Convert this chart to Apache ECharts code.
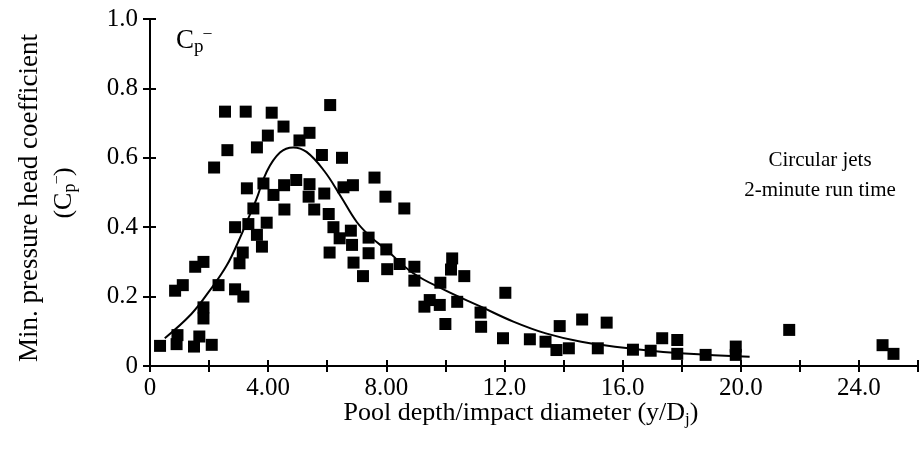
<!DOCTYPE html>
<html>
<head>
<meta charset="utf-8">
<script src="https://cdn.jsdelivr.net/npm/echarts@6/dist/echarts.min.js"></script>
<style>
  html, body { margin: 0; padding: 0; background: #fff; }
  #chart { width: 924px; height: 454px; }
</style>
</head>
<body>
<div id="chart"></div>
<script>
/* Min. pressure head coefficient vs pool depth — circular jets */

// measured points [y/Dj, Cp-]
var measured = [
  [0.34, 0.058], [0.90, 0.063], [0.93, 0.089], [1.49, 0.056], [1.67, 0.085], [2.09, 0.061],
  [1.81, 0.137], [1.81, 0.169], [0.85, 0.217], [1.11, 0.233], [1.53, 0.286], [1.81, 0.30],
  [2.32, 0.233], [2.88, 0.221], [3.16, 0.20], [3.03, 0.296], [3.14, 0.327], [2.88, 0.40],
  [3.33, 0.409], [3.95, 0.413], [3.62, 0.378], [3.79, 0.344],
  [2.17, 0.572], [2.62, 0.622], [2.54, 0.733], [3.24, 0.733], [4.12, 0.73], [4.52, 0.69],
  [6.10, 0.752], [3.99, 0.664], [3.62, 0.63], [5.40, 0.672], [5.06, 0.65], [5.82, 0.608],
  [6.50, 0.60], [7.60, 0.543], [7.97, 0.488],
  [3.28, 0.512], [3.84, 0.526], [4.18, 0.493], [4.54, 0.521], [4.95, 0.536], [5.40, 0.524],
  [5.90, 0.497], [5.37, 0.488], [6.55, 0.515], [6.87, 0.521], [4.55, 0.451], [5.56, 0.451],
  [3.50, 0.454], [6.05, 0.438],
  [6.21, 0.40], [6.80, 0.39], [6.42, 0.368], [6.84, 0.349], [7.40, 0.37], [7.40, 0.325],
  [6.08, 0.327], [6.89, 0.298], [7.21, 0.259], [8.00, 0.336], [8.03, 0.279],
  [8.61, 0.454], [8.45, 0.294], [8.95, 0.286], [8.95, 0.246], [9.83, 0.24], [10.23, 0.31],
  [10.19, 0.278], [10.64, 0.259], [9.47, 0.19], [9.29, 0.171], [9.81, 0.176], [10.40, 0.185],
  [10.0, 0.121], [11.19, 0.154], [11.21, 0.113], [12.03, 0.211], [11.95, 0.08], [12.86, 0.077],
  [13.39, 0.07], [13.87, 0.115], [13.76, 0.046], [14.18, 0.051], [14.63, 0.134], [15.46, 0.125],
  [15.16, 0.051], [16.35, 0.047], [16.95, 0.044], [17.34, 0.08], [17.85, 0.075], [17.85, 0.035],
  [18.81, 0.032], [19.83, 0.056], [19.83, 0.032], [21.64, 0.104], [24.80, 0.06], [25.17, 0.035]
];

// fitted curve
var fitCurve = [
  [0.5, 0.08], [1.4, 0.15], [2.0, 0.215], [2.6, 0.29], [3.05, 0.37], [3.3, 0.42], [3.6, 0.48],
  [3.95, 0.56], [4.4, 0.615], [4.85, 0.63], [5.3, 0.617], [5.9, 0.562], [6.45, 0.49],
  [7.0, 0.415], [7.5, 0.37], [8.0, 0.335], [8.9, 0.268], [10.0, 0.218], [11.2, 0.171],
  [12.3, 0.128], [13.4, 0.094], [14.6, 0.07], [16.3, 0.05], [18.1, 0.036], [20.3, 0.027]
];

var xTickValues = [0, 4, 8, 12, 16, 20, 24];
var xTickLabels = ['0', '4.00', '8.00', '12.0', '16.0', '20.0', '24.0'];
var yTickValues = [0, 0.2, 0.4, 0.6, 0.8, 1.0];
var yTickLabels = ['0', '0.2', '0.4', '0.6', '0.8', '1.0'];

var FONT = '"Liberation Serif", "DejaVu Serif", serif';
var INK = '#000';

function lookup(values, labels, v) {
  for (var i = 0; i < values.length; i++) {
    if (Math.abs(values[i] - v) < 1e-6) return labels[i];
  }
  return '';
}

var chart = echarts.init(document.getElementById('chart'), null, { renderer: 'canvas' });

var xBase = { type: 'value', min: 0, max: 26, interval: 2, splitLine: { show: false } };
var yBase = { type: 'value', min: 0, max: 1, interval: 0.2, splitLine: { show: false } };

var option = {
  backgroundColor: '#fff',
  animation: false,
  grid: { left: 150, right: 6, top: 19, bottom: 88 },
  xAxis: [
    Object.assign({}, xBase, {
      axisLine: { lineStyle: { color: INK, width: 2 } },
      axisTick: { length: 6, lineStyle: { color: INK, width: 2 } },
      axisLabel: {
        margin: 10, color: INK, fontFamily: FONT, fontSize: 25,
        formatter: function (v) { return lookup(xTickValues, xTickLabels, v); }
      }
    }),
    Object.assign({}, xBase, {
      position: 'bottom',
      axisLine: { show: false },
      axisTick: { inside: true, length: 6, lineStyle: { color: INK, width: 2 } },
      axisLabel: { show: false }
    })
  ],
  yAxis: [
    Object.assign({}, yBase, {
      axisLine: { show: true, lineStyle: { color: INK, width: 2 } },
      axisTick: { show: true, length: 7, lineStyle: { color: INK, width: 2 } },
      axisLabel: {
        margin: 12, color: INK, fontFamily: FONT, fontSize: 25,
        formatter: function (v) { return lookup(yTickValues, yTickLabels, v); }
      }
    }),
    Object.assign({}, yBase, {
      position: 'left',
      axisLine: { show: false },
      axisTick: { show: true, inside: true, length: 6, lineStyle: { color: INK, width: 2 } },
      axisLabel: { show: false }
    })
  ],
  series: [
    {
      type: 'scatter',
      data: measured,
      symbol: 'rect',
      symbolSize: 12,
      itemStyle: { color: INK, opacity: 1 },
      z: 3
    },
    {
      type: 'line',
      data: fitCurve,
      smooth: 0.4,
      showSymbol: false,
      lineStyle: { color: INK, width: 2 },
      z: 4
    }
  ],
  graphic: [
    {
      type: 'text', x: 30, y: 198, rotation: Math.PI / 2,
      style: {
        text: 'Min. pressure head coefficient', fill: INK,
        font: '27px ' + FONT, align: 'center', verticalAlign: 'middle'
      }
    },
    {
      type: 'text', x: 64, y: 193, rotation: Math.PI / 2,
      style: {
        text: '{c|(C}{p|p}{m|\u2013}{c|)}', fill: INK, align: 'center', verticalAlign: 'middle',
        rich: {
          c: { fontFamily: FONT, fontSize: 26, lineHeight: 30, fill: INK },
          p: { fontFamily: FONT, fontSize: 18, lineHeight: 14, verticalAlign: 'bottom', fill: INK },
          m: { fontFamily: FONT, fontSize: 15, lineHeight: 12, verticalAlign: 'top', fill: INK }
        }
      }
    },
    {
      type: 'text', x: 176, y: 25,
      style: {
        text: '{c|C}{p|p}{m|\u2013}', fill: INK,
        rich: {
          c: { fontFamily: FONT, fontSize: 27, lineHeight: 32, fill: INK },
          p: { fontFamily: FONT, fontSize: 19, lineHeight: 14, verticalAlign: 'bottom', fill: INK },
          m: { fontFamily: FONT, fontSize: 16, lineHeight: 12, verticalAlign: 'top', fill: INK }
        }
      }
    },
    {
      type: 'text', x: 521, y: 413,
      style: {
        text: '{t|Pool depth/impact diameter (y/D}{s|j}{t|)}', fill: INK,
        align: 'center', verticalAlign: 'middle',
        rich: {
          t: { fontFamily: FONT, fontSize: 26, lineHeight: 30, fill: INK },
          s: { fontFamily: FONT, fontSize: 17, lineHeight: 12, verticalAlign: 'bottom', fill: INK }
        }
      }
    },
    {
      type: 'text', x: 820, y: 160,
      style: {
        text: 'Circular jets', fill: INK, font: '21px ' + FONT,
        align: 'center', verticalAlign: 'middle'
      }
    },
    {
      type: 'text', x: 820, y: 190,
      style: {
        text: '2-minute run time', fill: INK, font: '21px ' + FONT,
        align: 'center', verticalAlign: 'middle'
      }
    }
  ]
};

chart.setOption(option);
window.addEventListener('resize', function () { chart.resize(); });
</script>
</body>
</html>
